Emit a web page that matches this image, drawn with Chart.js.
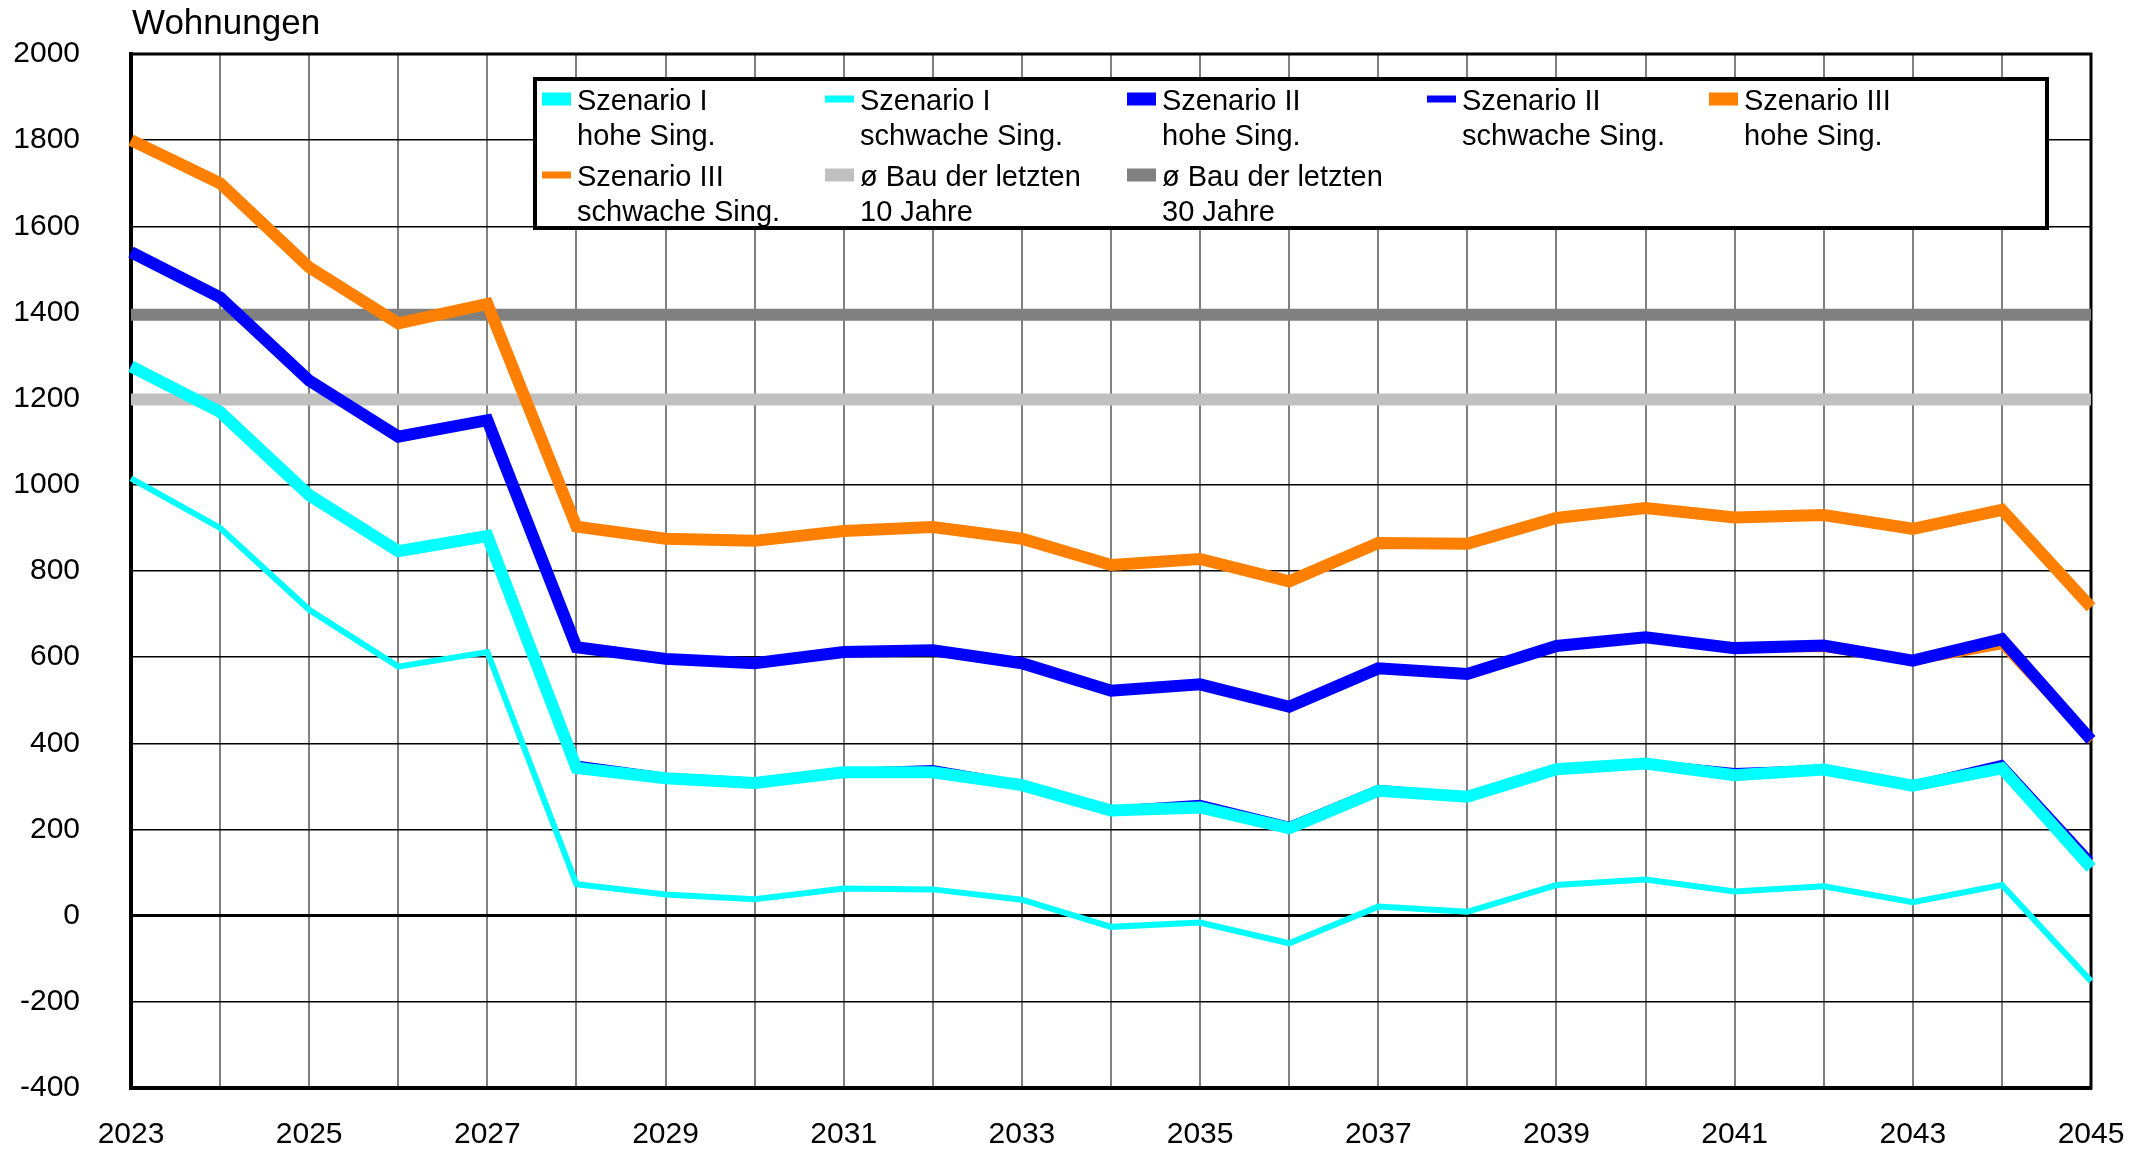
<!DOCTYPE html>
<html>
<head>
<meta charset="utf-8">
<script src="https://cdn.jsdelivr.net/npm/chart.js@4.4.1/dist/chart.umd.min.js"></script>
<style>
  body { margin: 0; background: #fff; overflow: hidden; }
  #wrap { width: 2143px; height: 1149px; }
  canvas { display: block; }
</style>
</head>
<body>
<div id="wrap"><canvas id="chart" width="2143" height="1149"></canvas></div>
<script>
// Jahre (x-Achse)
const jahre = ['2023','2024','2025','2026','2027','2028','2029','2030','2031','2032','2033',
  '2034','2035','2036','2037','2038','2039','2040','2041','2042','2043','2044','2045'];

// Werte je Szenario
const s1Hohe     = [1275,1169,976,846,881,343,319,308,333,333,303,244,251,203,290,276,340,353,326,339,302,342,111];
const s1Schwache = [1015,900,710,578,612,73,49,38,63,61,37,-26,-16,-64,21,9,71,84,56,68,31,71,-152];
const s2Hohe     = [1540,1435,1242,1112,1150,623,596,586,612,616,586,522,537,485,574,561,626,646,621,627,592,642,408];
const s2Schwache = [1278,1172,978,848,883,353,325,314,336,343,307,248,262,211,297,280,344,356,336,343,306,355,130];
const s3Hohe     = [1800,1700,1505,1375,1420,903,875,870,893,902,875,814,828,776,865,863,923,946,924,930,898,942,716];
const s3Schwache = [1537,1432,1240,1105,1148,621,594,584,610,613,584,520,535,483,568,559,620,644,617,619,588,625,405];
const bau10 = [1198,1198,1198,1198,1198,1198,1198,1198,1198,1198,1198,1198,1198,1198,1198,1198,1198,1198,1198,1198,1198,1198,1198];
const bau30 = [1395,1395,1395,1395,1395,1395,1395,1395,1395,1395,1395,1395,1395,1395,1395,1395,1395,1395,1395,1395,1395,1395,1395];

const legendeTexte = [
  ['Szenario I', 'hohe Sing.'],
  ['Szenario I', 'schwache Sing.'],
  ['Szenario II', 'hohe Sing.'],
  ['Szenario II', 'schwache Sing.'],
  ['Szenario III', 'hohe Sing.'],
  ['Szenario III', 'schwache Sing.'],
  ['ø Bau der letzten', '10 Jahre'],
  ['ø Bau der letzten', '30 Jahre']
];

const schrift = '"Liberation Sans", Arial, sans-serif';

function linie(werte, farbe, breite, i) {
  return {
    label: legendeTexte[i].join(' '),
    data: werte,
    borderColor: farbe,
    backgroundColor: farbe,
    borderWidth: breite,
    pointRadius: 0,
    tension: 0,
    fill: false
  };
}

const datasets = [
  linie(s1Hohe, '#00ffff', 12, 0),
  linie(s1Schwache, '#00ffff', 6, 1),
  linie(s2Hohe, '#0000ff', 12, 2),
  linie(s2Schwache, '#0000ff', 6, 3),
  linie(s3Hohe, '#ff8000', 12, 4),
  linie(s3Schwache, '#ff8000', 6, 5),
  linie(bau10, '#c0c0c0', 12, 6),
  linie(bau30, '#808080', 12, 7)
];

// Rahmen um die Zeichenfläche
const rahmen = {
  id: 'rahmen',
  beforeDatasetsDraw(chart) {
    const { ctx, chartArea: a } = chart;
    ctx.save();
    ctx.strokeStyle = '#000';
    ctx.lineWidth = 3;
    ctx.strokeRect(a.left, a.top, a.right - a.left, a.bottom - a.top);
    ctx.restore();
  }
};

// Achsentitel oben links und Legende im Diagramm
const legende = {
  id: 'legende',
  afterDraw(chart) {
    const { ctx, chartArea: a } = chart;
    ctx.save();
    ctx.fillStyle = '#000';
    ctx.font = '35px ' + schrift;
    ctx.textBaseline = 'alphabetic';
    ctx.textAlign = 'left';
    ctx.fillText('Wohnungen', a.left + 1, 34);

    const box = { x: 535, y: 79, w: 1512, h: 149 };
    ctx.fillStyle = '#fff';
    ctx.fillRect(box.x, box.y, box.w, box.h);
    ctx.strokeStyle = '#000';
    ctx.lineWidth = 4;
    ctx.strokeRect(box.x, box.y, box.w, box.h);

    const spalten = [542, 825, 1127, 1427, 1709];
    const zeilen = [99, 175];
    ctx.font = '29px ' + schrift;
    chart.data.datasets.forEach((ds, i) => {
      const x = spalten[i % 5];
      const yc = zeilen[Math.floor(i / 5)];
      const h = ds.borderWidth >= 10 ? 13 : 7;
      ctx.fillStyle = ds.borderColor;
      ctx.fillRect(x, yc - h / 2, 29, h);
      ctx.fillStyle = '#000';
      legendeTexte[i].forEach((t, j) => {
        ctx.fillText(t, x + 35, yc + 11 + j * 35);
      });
    });
    ctx.restore();
  }
};

new Chart(document.getElementById('chart'), {
  type: 'line',
  data: { labels: jahre, datasets: datasets },
  options: {
    responsive: false,
    animation: false,
    layout: { padding: { top: 54, right: 52, left: 0, bottom: 0 } },
    plugins: {
      legend: { display: false },
      title: { display: false },
      tooltip: { enabled: false }
    },
    scales: {
      x: {
        offset: false,
        afterFit: s => { s.height = 61; },
        grid: { color: '#808080', lineWidth: 2, drawTicks: true, tickLength: 29, tickColor: 'rgba(0,0,0,0)' },
        border: { display: true, color: '#000', width: 4 },
        ticks: {
          autoSkip: false,
          maxRotation: 0,
          padding: 0,
          color: '#000',
          font: { family: schrift, size: 30 },
          callback: function (v, i) { return i % 2 === 0 ? jahre[i] : ''; }
        }
      },
      y: {
        min: -400,
        max: 2000,
        afterFit: s => { s.width = 131; },
        grid: {
          color: '#000',
          lineWidth: c => (c.tick && c.tick.value === 0 ? 3 : 1.5),
          drawTicks: true,
          tickLength: 51,
          tickColor: 'rgba(0,0,0,0)'
        },
        border: { display: true, color: '#000', width: 4 },
        ticks: {
          stepSize: 200,
          padding: 0,
          color: '#000',
          font: { family: schrift, size: 30 },
          callback: v => String(v)
        }
      }
    }
  },
  plugins: [rahmen, legende]
});
</script>
</body>
</html>
